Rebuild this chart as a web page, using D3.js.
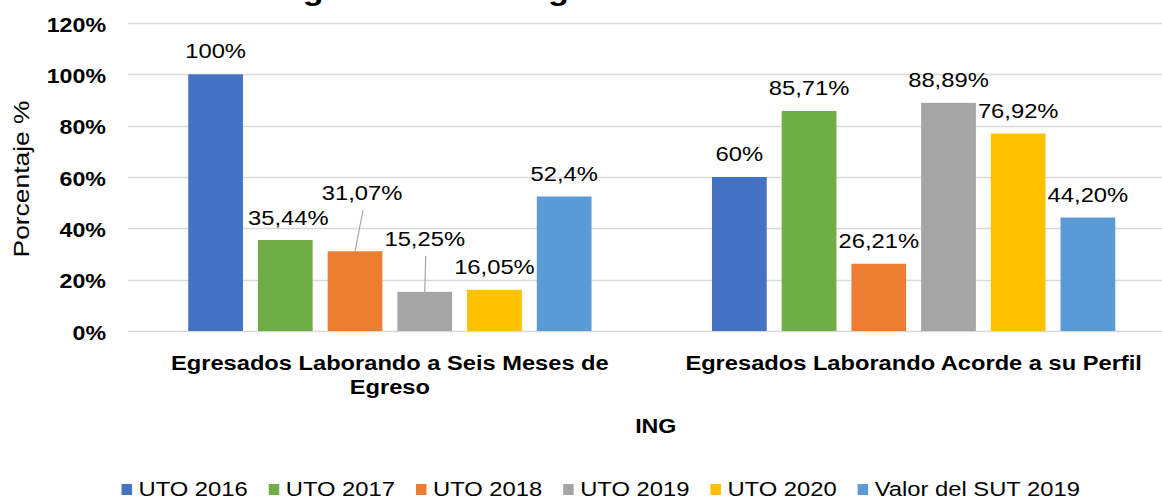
<!DOCTYPE html>
<html>
<head>
<meta charset="utf-8">
<script src="https://cdn.jsdelivr.net/npm/d3@7"></script>
<style>
  body { margin: 0; background: #fff; }
  text { font-family: "Liberation Sans", Arial, sans-serif; fill: #000; }
</style>
</head>
<body>
<div id="chart"></div>
<script>

// data
var categories = ["Egresados Laborando a Seis Meses de Egreso", "Egresados Laborando Acorde a su Perfil"];
var series = ["UTO 2016", "UTO 2017", "UTO 2018", "UTO 2019", "UTO 2020", "Valor del SUT 2019"];
var seriesColors = ["#4472C4", "#70AD47", "#ED7D31", "#A5A5A5", "#FFC000", "#5B9BD5"];
var valuesSeisMeses = [1.0, 0.3544, 0.3107, 0.1525, 0.1605, 0.524];
var valuesPerfil = [0.60, 0.8571, 0.2621, 0.8889, 0.7692, 0.4420];
var labelsSeisMeses = ["100%", "35,44%", "31,07%", "15,25%", "16,05%", "52,4%"];
var labelsPerfil = ["60%", "85,71%", "26,21%", "88,89%", "76,92%", "44,20%"];
var yTicks = [0, 0.2, 0.4, 0.6, 0.8, 1.0, 1.2];

// labels that were dragged away from the bar in the original (px)
var labelMoves = [
  [[0, 0], [3, 1], [7, -35], [0, -30], [0, 0], [0, 0]],
  [[0, 0], [0, 0], [0, 0], [0, 0], [0, 0], [0, 0]]
];

var W = 1162, H = 499;
var SX = 1.16; // the original text is a bit wider than Arial

var margin = {top: 23, left: 128, bottom: 168},
    plotRight = 1175.5,
    plotBottom = H - margin.bottom;

var svg = d3.select("#chart").append("svg")
    .attr("width", W)
    .attr("height", H);

function place(sel, x, y, rot) {
  return sel.attr("transform",
    "translate(" + x + "," + y + ") rotate(" + (rot || 0) + ") scale(" + SX + ",1)");
}

var rows = categories.map(function(c, i) {
  return {
    cat: c,
    values: i === 0 ? valuesSeisMeses : valuesPerfil,
    labels: i === 0 ? labelsSeisMeses : labelsPerfil,
    moves: labelMoves[i]
  };
});

var x0 = d3.scaleBand()
    .domain(categories)
    .range([margin.left, plotRight]);

var x1 = d3.scaleBand()
    .domain(series)
    .range([0, x0.bandwidth()])
    .paddingInner(0.215)
    .paddingOuter(0.864);

var y = d3.scaleLinear()
    .domain([0, 1.2])
    .range([plotBottom, margin.top]);

var color = d3.scaleOrdinal().domain(series).range(seriesColors);

// title, cut off by the top edge in the original
place(svg.append("text")
    .attr("font-size", "29.5px")
    .attr("font-weight", "bold")
    .text("Seguimiento de Egresados"), 261, 0);

// gridlines
svg.append("g")
  .selectAll("line")
  .data(yTicks)
  .enter().append("line")
    .attr("x1", margin.left)
    .attr("x2", plotRight)
    .attr("y1", function(d) { return Math.round(y(d)) + 0.5; })
    .attr("y2", function(d) { return Math.round(y(d)) + 0.5; })
    .attr("stroke", "#d9d9d9")
    .attr("stroke-width", 1.5);

// y tick labels
svg.append("g")
  .selectAll("text")
  .data(yTicks)
  .enter().append("text")
    .attr("text-anchor", "end")
    .attr("font-size", "20px")
    .attr("font-weight", "bold")
    .text(d3.format(".0%"))
    .each(function(d) { place(d3.select(this), 106, y(d) + 8.5); });

// bars
var groups = svg.append("g")
  .selectAll("g")
  .data(rows)
  .enter().append("g")
    .attr("transform", function(d) { return "translate(" + x0(d.cat) + ",0)"; });

groups.selectAll("rect")
    .data(function(d) { return d.values.map(function(v, i) { return {s: series[i], v: v}; }); })
  .enter().append("rect")
    .attr("x", function(d) { return x1(d.s); })
    .attr("width", x1.bandwidth())
    .attr("y", function(d) { return y(d.v); })
    .attr("height", function(d) { return y(0) - y(d.v); })
    .attr("fill", function(d) { return color(d.s); });

// data labels (+ leader lines for the moved ones)
groups.each(function(row) {
  var g = d3.select(this);
  row.values.forEach(function(v, i) {
    var cx = x1(series[i]) + x1.bandwidth() / 2;
    var mv = row.moves[i];
    var lx = cx + mv[0], ly = y(v) - 16 + mv[1];
    if (mv[1] < -10) {
      g.append("line")
        .attr("x1", lx + 1)
        .attr("y1", ly + 10)
        .attr("x2", cx)
        .attr("y2", y(v))
        .attr("stroke", "#a6a6a6")
        .attr("stroke-width", 1.2);
    }
    place(g.append("text")
        .attr("text-anchor", "middle")
        .attr("font-size", "20.5px")
        .text(row.labels[i]), lx, ly);
  });
});

// category labels, wrapped like Excel does
svg.append("g")
  .selectAll("text")
  .data(categories)
  .enter().append("text")
    .attr("text-anchor", "middle")
    .attr("font-size", "20.4px")
    .attr("font-weight", "bold")
    .each(function(d) {
      var t = d3.select(this);
      place(t, x0(d) + x0.bandwidth() / 2, 369.5);
      var words = d.split(" "), line = [];
      var tspan = t.append("tspan").attr("x", 0).attr("dy", 0);
      words.forEach(function(w) {
        line.push(w);
        tspan.text(line.join(" "));
        if (tspan.node().getComputedTextLength() * SX > 500 && line.length > 1) {
          line.pop();
          tspan.text(line.join(" "));
          line = [w];
          tspan = t.append("tspan").attr("x", 0).attr("dy", 25).text(w);
        }
      });
    });

// axis titles
place(svg.append("text")
    .attr("text-anchor", "middle")
    .attr("font-size", "20px")
    .attr("font-weight", "bold")
    .text("ING"), (margin.left + plotRight) / 2 + 4, 433);

svg.append("text")
    .attr("text-anchor", "middle")
    .attr("font-size", "22px")
    .attr("transform", "translate(29,179) rotate(-90) scale(1.2,1)")
    .text("Porcentaje %");

// legend
var legend = svg.append("g");
var lx = 0;
series.forEach(function(s) {
  var item = legend.append("g").attr("transform", "translate(" + lx + ",0)");
  item.append("rect")
      .attr("x", 0)
      .attr("y", -12)
      .attr("width", 10.5)
      .attr("height", 11)
      .attr("fill", color(s));
  var t = item.append("text")
      .attr("font-size", "20.5px")
      .text(s);
  place(t, 17, 0);
  lx += 17 + t.node().getComputedTextLength() * SX + 21;
});
var legendW = lx - 21;
legend.attr("transform", "translate(" + (600.7 - legendW / 2) + ",496)");

</script>
</body>
</html>
